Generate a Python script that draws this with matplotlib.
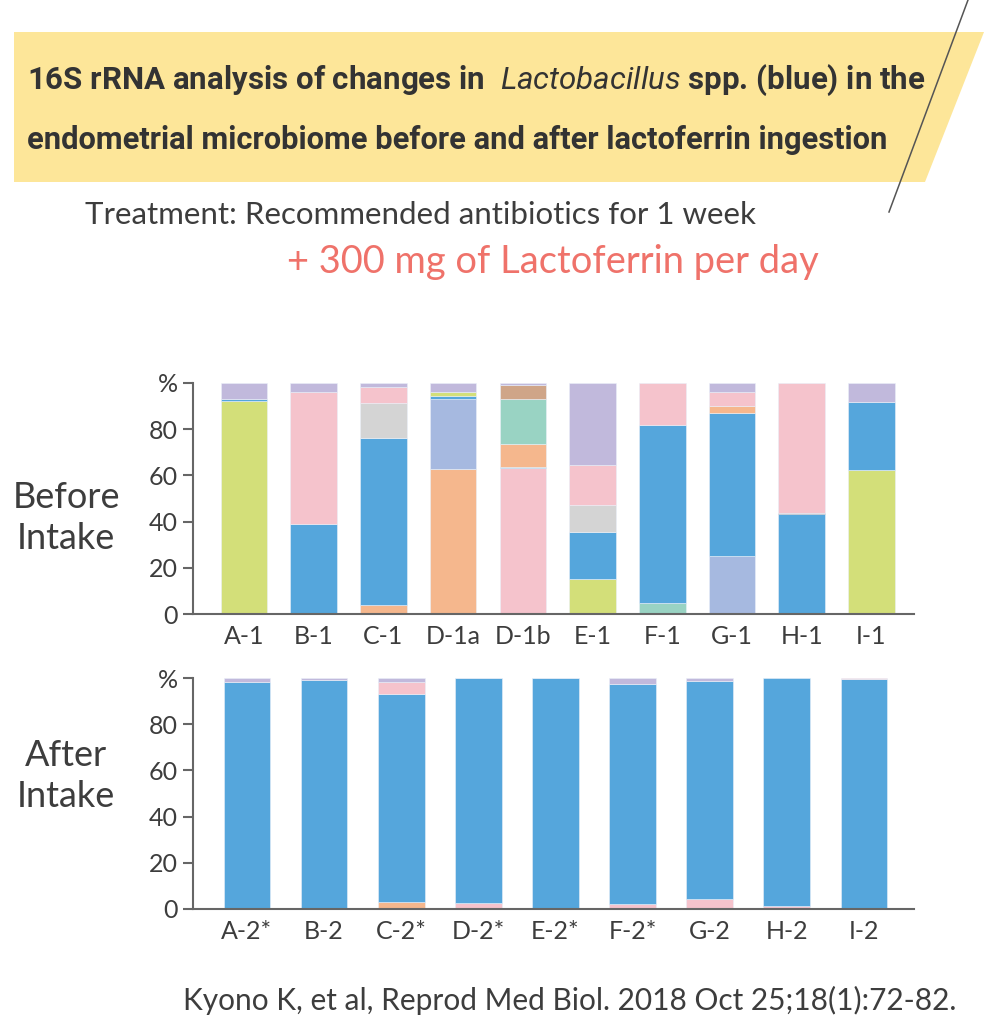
import matplotlib
matplotlib.use("Agg")
import matplotlib.pyplot as plt
from matplotlib.patches import Polygon
from matplotlib.lines import Line2D

# ── colours of the taxa (blue = Lactobacillus) ──────────────
COLORS = {
    "lacto": "#55a6dc",
    "green": "#d3df79",
    "purple": "#c1b9dc",
    "pink": "#f5c3cc",
    "gray": "#d4d4d4",
    "orange": "#f5b78d",
    "periwinkle": "#a6b9e0",
    "teal": "#99d3c3",
    "brown": "#cfa588",
    "dark": "#56606a",
}

# ── before intake: stacked segments, bottom → top (%) ───────
before_labels = ["A-1", "B-1", "C-1", "D-1a", "D-1b", "E-1", "F-1", "G-1", "H-1", "I-1"]
before_A1 = [("green", 92.0), ("lacto", 1.2), ("purple", 6.8)]
before_B1 = [("lacto", 39.0), ("pink", 57.2), ("purple", 3.8)]
before_C1 = [("orange", 3.8), ("lacto", 72.3), ("gray", 15.1), ("pink", 7.1), ("purple", 1.7)]
before_D1a = [("orange", 62.9), ("periwinkle", 30.1), ("lacto", 1.2), ("green", 1.7), ("purple", 4.1)]
before_D1b = [("pink", 63.2), ("lacto", 0.6), ("orange", 9.8), ("teal", 19.4), ("brown", 6.3), ("purple", 0.7)]
before_E1 = [("green", 15.2), ("lacto", 20.3), ("gray", 11.9), ("pink", 16.9), ("purple", 35.7)]
before_F1 = [("teal", 4.9), ("lacto", 76.8), ("pink", 18.3)]
before_G1 = [("periwinkle", 25.2), ("lacto", 61.9), ("orange", 3.0), ("pink", 6.1), ("purple", 3.8)]
before_H1 = [("lacto", 43.3), ("dark", 0.4), ("pink", 56.3)]
before_I1 = [("green", 62.5), ("lacto", 29.2), ("purple", 8.3)]
before_bars = [before_A1, before_B1, before_C1, before_D1a, before_D1b,
               before_E1, before_F1, before_G1, before_H1, before_I1]

# ── after intake ────────────────────────────────────────────
after_labels = ["A-2*", "B-2", "C-2*", "D-2*", "E-2*", "F-2*", "G-2", "H-2", "I-2"]
after_A2 = [("lacto", 98.3), ("purple", 1.7)]
after_B2 = [("lacto", 99.3), ("purple", 0.7)]
after_C2 = [("orange", 3.2), ("lacto", 90.0), ("pink", 4.9), ("purple", 1.9)]
after_D2 = [("pink", 2.7), ("lacto", 97.2), ("pink", 0.1)]
after_E2 = [("lacto", 99.8), ("pink", 0.2)]
after_F2 = [("pink", 2.2), ("lacto", 95.1), ("purple", 2.7)]
after_G2 = [("pink", 4.2), ("lacto", 94.6), ("purple", 1.2)]
after_H2 = [("pink", 1.4), ("lacto", 98.6)]
after_I2 = [("lacto", 99.7), ("pink", 0.3)]
after_bars = [after_A2, after_B2, after_C2, after_D2, after_E2,
              after_F2, after_G2, after_H2, after_I2]

yticks = [0, 20, 40, 60, 80, 100]
ytick_labels = ["0", "20", "40", "60", "80", "%"]

TXT = "#3d3d3d"
AXC = "#666666"
BODY = ["Lato", "DejaVu Sans"]
HEAD = ["Roboto", "DejaVu Sans"]

plt.rcParams["mathtext.fontset"] = "custom"
plt.rcParams["mathtext.it"] = "Roboto:italic"
plt.rcParams["mathtext.rm"] = "Roboto"

W, H = 984, 1024
fig = plt.figure(figsize=(W / 100, H / 100), dpi=100)
fig.patch.set_facecolor("white")
renderer = fig.canvas.get_renderer()


def px(x, y):
    return x / W, 1 - y / H


def fit(t, width_px):
    # shrink/grow a text so it spans the same width as in the reference
    w = t.get_window_extent(renderer).width
    t.set_fontsize(t.get_fontsize() * width_px / w)


# banner
banner = Polygon([px(14, 32), px(984, 32), px(925, 182), px(14, 182)],
                 closed=True, transform=fig.transFigure,
                 facecolor="#fde699", edgecolor="none", zorder=0)
fig.patches.append(banner)
x0, y0 = px(968, 0)
x1, y1 = px(889, 212)
fig.add_artist(Line2D([x0, x1], [y0, y1], transform=fig.transFigure,
                      color="#555555", linewidth=1.1))

t = fig.text(*px(27, 80), r"16S rRNA analysis of changes in  $\mathit{Lactobacillus}$ spp. (blue) in the",
             family=HEAD, weight="bold", fontsize=20, color="#333333",
             ha="left", va="center")
fit(t, 897)
t = fig.text(*px(27, 140), "endometrial microbiome before and after lactoferrin ingestion",
             family=HEAD, weight="bold", fontsize=20, color="#333333",
             ha="left", va="center")
fit(t, 859)

t = fig.text(*px(85, 215), "Treatment: Recommended antibiotics for 1 week",
             family=BODY, fontsize=20, color=TXT, ha="left", va="center")
fit(t, 672)
t = fig.text(*px(287, 262), "+ 300 mg of Lactoferrin per day",
             family=BODY, fontsize=23.5, color="#ef726a", ha="left", va="center")
fit(t, 533)

fig.text(*px(66, 518), "Before\nIntake", family=BODY,
         fontsize=26, color=TXT, ha="center", va="center", linespacing=1.32)
fig.text(*px(66, 776), "After\nIntake", family=BODY,
         fontsize=26, color=TXT, ha="center", va="center", linespacing=1.32)

t = fig.text(*px(183, 1000), "Kyono K, et al, Reprod Med Biol. 2018 Oct 25;18(1):72-82.",
             family=BODY, fontsize=19, color=TXT, ha="left", va="center")
fit(t, 775)


def draw(ax, labels, bars, width, xlim):
    for i, segs in enumerate(bars):
        bottom = 0
        for taxon, val in segs:
            ax.bar(i, val, width, bottom=bottom, color=COLORS[taxon],
                   edgecolor="#eaf0f8", linewidth=0.4)
            bottom += val
    ax.set_xlim(*xlim)
    ax.set_ylim(0, 100)
    ax.set_xticks(range(len(labels)))
    ax.set_xticklabels(labels, family=BODY)
    ax.set_yticks(yticks)
    ax.set_yticklabels(ytick_labels, family=BODY)
    for s in ("top", "right"):
        ax.spines[s].set_visible(False)
    for s in ("left", "bottom"):
        ax.spines[s].set_color(AXC)
        ax.spines[s].set_linewidth(1.5)
    ax.tick_params(axis="y", length=7, width=1.5, color=AXC, labelsize=18,
                   labelcolor=TXT, pad=4)
    ax.tick_params(axis="x", length=0, labelsize=18, labelcolor=TXT, pad=8)


l, r = 193 / W, 914 / W
ax1 = fig.add_axes([l, 1 - 614 / H, r - l, 231 / H])
draw(ax1, before_labels, before_bars, 0.668, (-0.73, 9.61))

ax2 = fig.add_axes([l, 1 - 909 / H, r - l, 231 / H])
draw(ax2, after_labels, after_bars, 0.605, (-0.70, 8.65))

fig.savefig("out.png", dpi=100, facecolor="white")
